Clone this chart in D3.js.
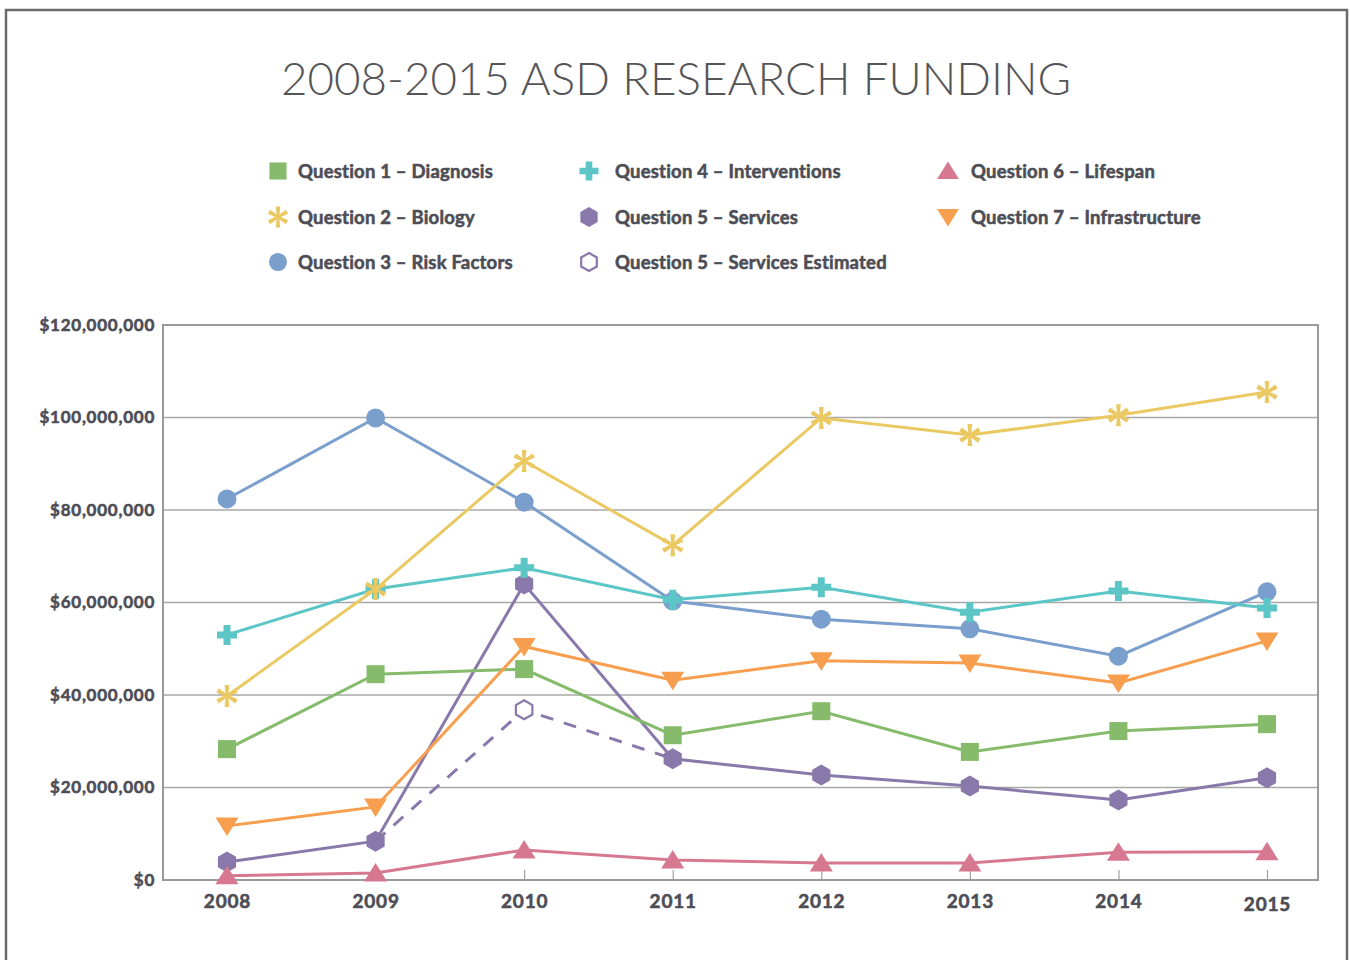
<!DOCTYPE html>
<html>
<head>
<meta charset="utf-8">
<script src="https://cdn.jsdelivr.net/npm/d3@7"></script>
<style>
  body { margin: 0; background: #fff; }
  svg { display: block; }
</style>
</head>
<body>
<div id="chart"></div>
<script>
// values in millions of dollars
const years = [2008, 2009, 2010, 2011, 2012, 2013, 2014, 2015]
const yTicks = [0, 20, 40, 60, 80, 100, 120]

const q1Diagnosis = [28.3, 44.5, 45.6, 31.3, 36.5, 27.7, 32.2, 33.7]
const q2Biology = [39.8, 62.9, 90.6, 72.4, 99.9, 96.2, 100.5, 105.5]
const q3RiskFactors = [82.4, 99.9, 81.7, 60.3, 56.4, 54.3, 48.4, 62.3]
const q4Interventions = [53.0, 62.9, 67.5, 60.6, 63.3, 57.9, 62.5, 58.8]
const q5Services = [3.9, 8.4, 64.0, 26.2, 22.7, 20.3, 17.3, 22.1]
const q5Estimated = [null, 8.4, 36.8, 26.2, null, null, null, null]
const q6Lifespan = [0.9, 1.5, 6.5, 4.3, 3.7, 3.7, 6.0, 6.1]
const q7Infrastructure = [11.7, 15.8, 50.5, 43.2, 47.4, 46.9, 42.6, 51.7]

const seriesNames = [
  "Question 1 \u2013 Diagnosis",
  "Question 2 \u2013 Biology",
  "Question 3 \u2013 Risk Factors",
  "Question 4 \u2013 Interventions",
  "Question 5 \u2013 Services",
  "Question 5 \u2013 Services Estimated",
  "Question 6 \u2013 Lifespan",
  "Question 7 \u2013 Infrastructure"
]

const colors = {
  green: "#86bb6b",
  yellow: "#eac963",
  blue: "#7a9fcd",
  teal: "#5cc6c6",
  purple: "#8978aa",
  pink: "#d77891",
  orange: "#f89e4f"
}

const width = 1350, height = 960
const plot = { left: 163, right: 1318, top: 325, bottom: 880 }
const boldFont = "Lato, sans-serif"

const svg = d3.select("#chart").append("svg")
  .attr("width", width)
  .attr("height", height)

// outer frame
svg.append("rect")
  .attr("x", 6).attr("y", 10)
  .attr("width", 1341).attr("height", 980)
  .attr("fill", "none")
  .attr("stroke", "#6b6b6b")
  .attr("stroke-width", 2.5)

svg.append("text")
  .attr("x", 676).attr("y", 95)
  .attr("text-anchor", "middle")
  .attr("font-family", "Lato, 'Open Sans', sans-serif")
  .attr("font-weight", 300)
  .attr("font-size", 45.7)
  .attr("fill", "#555558")
  .text("2008-2015 ASD RESEARCH FUNDING")

// marker shapes
function hexPath(r) {
  let pts = d3.range(6).map(i => {
    let a = Math.PI / 3 * i
    return [r * Math.sin(a), -r * Math.cos(a)]
  })
  return "M" + pts.map(p => p.join(",")).join("L") + "Z"
}

function drawMarker(g, kind, color, s) {
  s = s || 1
  if (kind == "square") {
    g.append("rect").attr("x", -9 * s).attr("y", -9 * s)
      .attr("width", 18 * s).attr("height", 18 * s).attr("fill", color)
  } else if (kind == "circle") {
    g.append("circle").attr("r", 9.5 * s).attr("fill", color)
  } else if (kind == "plus") {
    let a = 10 * s, t = 3.5 * s
    g.append("path").attr("fill", color)
      .attr("d", `M${-t},${-a}H${t}V${-t}H${a}V${t}H${t}V${a}H${-t}V${t}H${-a}V${-t}H${-t}Z`)
  } else if (kind == "asterisk") {
    [0, 60, 120].forEach(function(angle) {
      g.append("path")
        .attr("d", `M${-2.4 * s},${-11 * s}H${2.4 * s}L${1.3 * s},0L${2.4 * s},${11 * s}H${-2.4 * s}L${-1.3 * s},0Z`)
        .attr("transform", `rotate(${angle})`)
        .attr("fill", color)
    })
  } else if (kind == "hex") {
    g.append("path").attr("d", hexPath(10.5 * s)).attr("fill", color)
  } else if (kind == "hexOpen") {
    g.append("path").attr("d", hexPath(9.5 * s))
      .attr("fill", "#fff").attr("stroke", color).attr("stroke-width", 2.2)
  } else if (kind == "triUp") {
    g.append("path").attr("fill", color)
      .attr("d", `M0,${-10 * s}L${11.5 * s},${8.5 * s}L${-11.5 * s},${8.5 * s}Z`)
  } else if (kind == "triDown") {
    g.append("path").attr("fill", color)
      .attr("d", `M0,${10 * s}L${11.5 * s},${-8.5 * s}L${-11.5 * s},${-8.5 * s}Z`)
  }
}

// heavier look for the bold labels
function boldText(sel, size, spacing) {
  sel.attr("font-family", boldFont)
    .attr("font-weight", 700)
    .attr("font-size", size)
    .attr("letter-spacing", spacing)
    .attr("fill", "#4d4d56")
    .attr("stroke", "#4d4d56")
    .attr("stroke-width", 0.55)
}

// legend
const legendItems = [
  { name: seriesNames[0], color: colors.green, marker: "square", x: 278, y: 171, tx: 20 },
  { name: seriesNames[1], color: colors.yellow, marker: "asterisk", x: 278, y: 217, tx: 20 },
  { name: seriesNames[2], color: colors.blue, marker: "circle", x: 278, y: 262, tx: 20 },
  { name: seriesNames[3], color: colors.teal, marker: "plus", x: 589, y: 171, tx: 26 },
  { name: seriesNames[4], color: colors.purple, marker: "hex", x: 589, y: 217, tx: 26 },
  { name: seriesNames[5], color: colors.purple, marker: "hexOpen", x: 589, y: 262, tx: 26 },
  { name: seriesNames[6], color: colors.pink, marker: "triUp", x: 948, y: 171, tx: 23 },
  { name: seriesNames[7], color: colors.orange, marker: "triDown", x: 948, y: 217, tx: 23 }
]

const legend = svg.append("g").attr("class", "legend")
legendItems.forEach(function(item) {
  let g = legend.append("g").attr("transform", `translate(${item.x},${item.y})`)
  drawMarker(g.append("g"), item.marker, item.color, 0.95)
  g.append("text")
    .attr("x", item.tx).attr("y", 6.5)
    .call(boldText, 18.5, 0.2)
    .text(item.name)
})

// scales
const x = d3.scalePoint()
  .domain(years)
  .range([227, 1267])

const y = d3.scaleLinear()
  .domain([0, 120e6])
  .range([plot.bottom, plot.top])

// gridlines
svg.append("g").attr("class", "grid")
  .selectAll("line")
  .data(yTicks.slice(1, -1))
  .enter().append("line")
    .attr("x1", plot.left).attr("x2", plot.right)
    .attr("y1", d => y(d * 1e6)).attr("y2", d => y(d * 1e6))
    .attr("stroke", "#a8a8a8")
    .attr("stroke-width", 1.5)

// y axis labels
const yAxis = svg.append("g")
  .attr("transform", `translate(${plot.left},0)`)
  .call(d3.axisLeft(y)
    .tickValues(yTicks.map(d => d * 1e6))
    .tickSize(0)
    .tickPadding(8)
    .tickFormat(d3.format("$,")))
yAxis.select(".domain").remove()
yAxis.selectAll("text")
  .call(boldText, 17, 0.75)
  .attr("dy", "0.3em")

// x axis
const xAxis = svg.append("g")
  .attr("transform", `translate(0,${plot.bottom})`)
  .call(d3.axisBottom(x).tickSize(-10).tickPadding(18))
xAxis.select(".domain").remove()
xAxis.selectAll("line").attr("stroke", "#a0a0a0").attr("stroke-width", 1.2)
xAxis.selectAll("text")
  .call(boldText, 19, 0.8)
  .attr("dy", (d) => d == 2015 ? "0.71em" : "0.55em")

// plot frame
svg.append("rect")
  .attr("x", plot.left).attr("y", plot.top)
  .attr("width", plot.right - plot.left)
  .attr("height", plot.bottom - plot.top)
  .attr("fill", "none")
  .attr("stroke", "#9a9a9a")
  .attr("stroke-width", 2)

// series, drawn bottom to top
const series = [
  { values: q5Estimated, color: colors.purple, marker: "hexOpen", dashed: true, markAt: [2] },
  { values: q5Services, color: colors.purple, marker: "hex" },
  { values: q3RiskFactors, color: colors.blue, marker: "circle" },
  { values: q1Diagnosis, color: colors.green, marker: "square" },
  { values: q7Infrastructure, color: colors.orange, marker: "triDown" },
  { values: q6Lifespan, color: colors.pink, marker: "triUp" },
  { values: q4Interventions, color: colors.teal, marker: "plus" },
  { values: q2Biology, color: colors.yellow, marker: "asterisk" }
]

const line = d3.line()
  .defined(d => d.v != null)
  .x(d => x(d.year))
  .y(d => y(d.v * 1e6))

series.forEach(function(s) {
  let pts = years.map((yr, i) => ({ year: yr, v: s.values[i], i: i }))
  let g = svg.append("g")

  g.append("path")
    .datum(pts)
    .attr("d", line)
    .attr("fill", "none")
    .attr("stroke", s.color)
    .attr("stroke-width", 3)
    .attr("stroke-dasharray", s.dashed ? "13,11" : null)

  pts.filter(p => p.v != null && (!s.markAt || s.markAt.indexOf(p.i) > -1))
    .forEach(function(p) {
      let m = g.append("g").attr("transform", `translate(${x(p.year)},${y(p.v * 1e6)})`)
      drawMarker(m, s.marker, s.color, 1)
    })
})
</script>
</body>
</html>
